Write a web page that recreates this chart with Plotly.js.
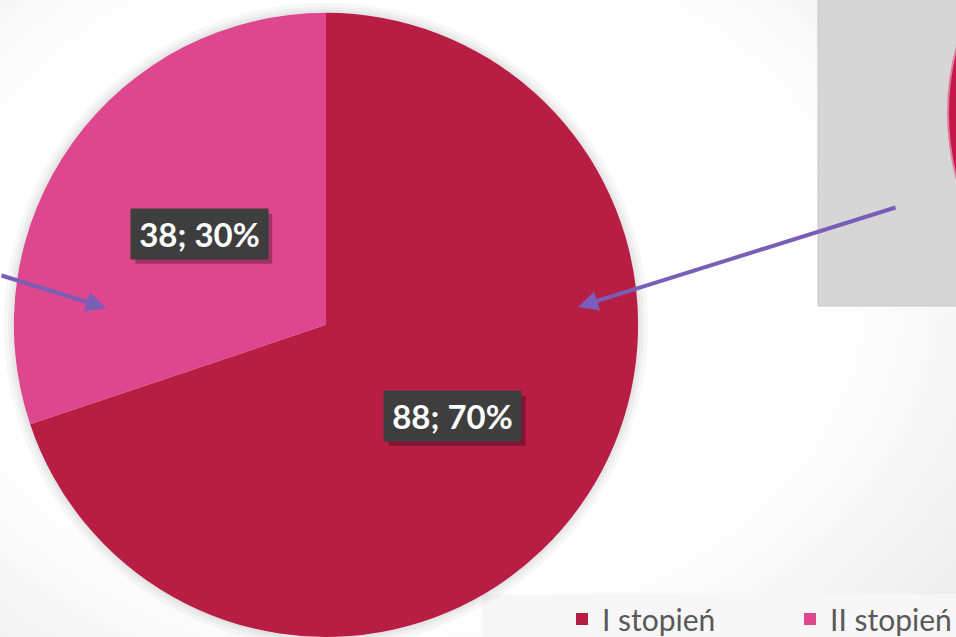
<!DOCTYPE html>
<html>
<head>
<meta charset="utf-8">
<script src="https://cdn.plot.ly/plotly-3.0.1.min.js"></script>
<style>
  html, body { margin: 0; padding: 0; overflow: hidden; }
  body {
    width: 956px; height: 637px;
    background: radial-gradient(ellipse 75% 85% at 42% 45%, #ffffff 60%, #ececec 100%);
  }
  #chart { width: 956px; height: 637px; }
</style>
</head>
<body>
<div id="chart"></div>
<script>
// ---- data ----
const labels = ["I stopień", "II stopień"];
const values = [88, 38];
const colors = ["#B81D44", "#DE468D"];

// ---- layout geometry ----
const W = 956, H = 637;
const domX = [0.0145, 0.6675];
const domY = [0.0, 0.98];
const cx = (domX[0] + domX[1]) / 2;
const cy = (domY[0] + domY[1]) / 2;
const rPx = Math.min((domX[1] - domX[0]) * W, (domY[1] - domY[0]) * H) / 2;
const px = v => v / W, py = v => 1 - v / H;

const total = values.reduce((a, b) => a + b, 0);

const annotations = [];
const shapes = [
  // legend background strip
  { type: "rect", xref: "paper", yref: "paper", layer: "below",
    x0: px(482), x1: px(956), y0: py(637), y1: py(594),
    fillcolor: "#f7f7f7", line: { width: 0 } },
  // pie soft shadow rings
  ...[10, 6, 3].map(d => ({
    type: "circle", xref: "paper", yref: "paper", layer: "below",
    x0: cx - (rPx + d) / W, x1: cx + (rPx + d) / W,
    y0: cy - (rPx + d) / H, y1: cy + (rPx + d) / H,
    fillcolor: "rgba(0,0,0,0.03)", line: { width: 0 }
  })),
  // grey picture panel top right
  { type: "rect", xref: "paper", yref: "paper", layer: "below",
    x0: px(818), x1: px(960), y0: py(306), y1: py(-2),
    fillcolor: "#d6d6d6", line: { width: 1, color: "#c6c6c6" } },
  // red circle fragment on that panel
  { type: "circle", xref: "paper", yref: "paper", layer: "below",
    x0: px(948), x1: px(1452), y0: py(365), y1: py(-139),
    fillcolor: "#C2184A", line: { width: 2, color: "#e27a9c" } }
];

// label boxes placed along each slice's mid-angle (clockwise from top)
let cum = 0;
values.forEach((v, i) => {
  const mid = (cum + v / 2) / total * 2 * Math.PI;
  cum += v;
  const x = cx + 0.5 * rPx * Math.sin(mid) / W;
  const y = cy + 0.5 * rPx * Math.cos(mid) / H;
  const txt = v + "; " + Math.round(v / total * 100) + "%";
  // box shadow
  shapes.push({
    type: "rect", xref: "paper", yref: "paper", layer: "above",
    xsizemode: "pixel", ysizemode: "pixel", xanchor: x, yanchor: y,
    x0: -64, x1: 73, y0: -30, y1: 20,
    fillcolor: "rgba(0,0,0,0.28)", line: { width: 0 }
  });
  annotations.push({
    xref: "paper", yref: "paper", x: x, y: y, xanchor: "center", yanchor: "middle",
    text: "<b>" + txt + "</b>", showarrow: false,
    font: { family: "Lato, sans-serif", size: 33, color: "#ffffff" },
    bgcolor: "#3e3e3e", width: 133, height: 46, borderpad: 2
  });
});

// arrows
const arrowColor = "#7A5DB6";
annotations.push({
  xref: "paper", yref: "paper", x: px(106), y: py(308),
  ax: -112, ay: -33, showarrow: true, arrowhead: 2, arrowsize: 1,
  arrowwidth: 4, arrowcolor: arrowColor, text: ""
});
annotations.push({
  xref: "paper", yref: "paper", x: px(578), y: py(307),
  ax: 319, ay: -100, showarrow: true, arrowhead: 2, arrowsize: 1,
  arrowwidth: 4, arrowcolor: arrowColor, text: ""
});

const data = [{
  type: "pie",
  labels: labels,
  values: values,
  marker: { colors: colors, line: { width: 0 } },
  sort: false,
  direction: "clockwise",
  rotation: 0,
  textinfo: "none",
  hoverinfo: "label+value+percent",
  domain: { x: domX, y: domY }
}];

const layout = {
  width: W, height: H,
  margin: { l: 0, r: 0, t: 0, b: 0, autoexpand: false },
  paper_bgcolor: "rgba(0,0,0,0)",
  plot_bgcolor: "rgba(0,0,0,0)",
  showlegend: true,
  legend: {
    orientation: "h",
    x: px(562), xanchor: "left",
    y: py(619), yanchor: "middle",
    font: { family: "Lato, sans-serif", size: 30, color: "#595959" },
    bgcolor: "rgba(0,0,0,0)",
    entrywidth: 183, entrywidthmode: "pixels",
    itemwidth: 30,
    traceorder: "normal"
  },
  shapes: shapes,
  annotations: annotations
};

Plotly.newPlot("chart", data, layout, { displayModeBar: false, staticPlot: true });
</script>
</body>
</html>
